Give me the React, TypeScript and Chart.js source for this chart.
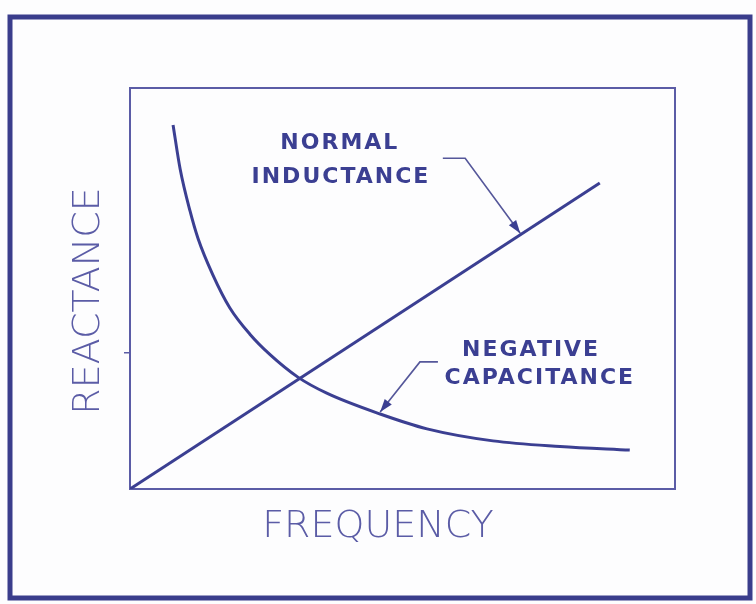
import React, { useEffect, useRef } from "react";
import { Chart, registerables } from "chart.js";

Chart.register(...registerables);

// Normal inductance: straight line through the origin
const inductanceX = [0, 86.2];
const inductanceY = [0, 76.3];

// Negative capacitance: hyperbola-like curve
const capacitanceX = [7.9, 9.2, 11.0, 12.5, 15.2, 18.3, 22.0, 25.7, 30.8, 36.1, 45.9, 54.5, 66.6, 78.9, 91.7];
const capacitanceY = [90.8, 79.8, 69.4, 62.4, 53.4, 45.2, 38.6, 33.5, 27.9, 23.9, 18.7, 15.0, 12.0, 10.6, 9.7];

const yTickValues = [34];

const xTitle = "FREQUENCY";
const yTitle = "REACTANCE";
const inductanceLabel = ["NORMAL", "INDUCTANCE"];
const capacitanceLabel = ["NEGATIVE", "CAPACITANCE"];

const INK = "#3b3f92";
const LIGHT_INK = "#5b5ca6";

const annotationPlugin = {
  id: "sketchAnnotations",
  beforeDraw(chart: any) {
    const ctx = chart.ctx;
    ctx.save();
    ctx.fillStyle = "#fdfdfe";
    ctx.fillRect(0, 0, chart.width, chart.height);
    ctx.restore();
  },
  afterDraw(chart: any) {
    const { ctx, scales } = chart;
    const xs = scales.x;
    const ys = scales.y;
    const px = (v: number) => xs.getPixelForValue(v);
    const py = (v: number) => ys.getPixelForValue(v);
    ctx.save();

    // outer frame
    ctx.strokeStyle = "#3a3d8c";
    ctx.lineWidth = 5;
    ctx.strokeRect(10, 17, 740, 581);

    // leaders with arrow heads
    const leader = (pts: number[][]) => {
      ctx.strokeStyle = "#55579a";
      ctx.lineWidth = 1.6;
      ctx.beginPath();
      pts.forEach((p, i) => {
        const X = px(p[0]);
        const Y = py(p[1]);
        if (i === 0) ctx.moveTo(X, Y);
        else ctx.lineTo(X, Y);
      });
      ctx.stroke();
      const a = pts[pts.length - 2];
      const b = pts[pts.length - 1];
      const ax = px(a[0]), ay = py(a[1]), bx = px(b[0]), by = py(b[1]);
      const ang = Math.atan2(by - ay, bx - ax);
      const L = 13, W = 4.5;
      ctx.fillStyle = INK;
      ctx.beginPath();
      ctx.moveTo(bx, by);
      ctx.lineTo(bx - L * Math.cos(ang) + W * Math.sin(ang), by - L * Math.sin(ang) - W * Math.cos(ang));
      ctx.lineTo(bx - L * Math.cos(ang) - W * Math.sin(ang), by - L * Math.sin(ang) + W * Math.cos(ang));
      ctx.closePath();
      ctx.fill();
    };
    leader([[57.4, 82.5], [61.5, 82.5], [71.6, 63.8]]);
    leader([[56.5, 31.7], [53.2, 31.7], [45.9, 19.2]]);

    // labels
    ctx.fillStyle = INK;
    ctx.font = "bold 22px 'DejaVu Sans'";
    ctx.textAlign = "center";
    ctx.textBaseline = "middle";
    (ctx as any).letterSpacing = "2px";
    ctx.fillText(inductanceLabel[0], px(38.5), py(86.3));
    ctx.fillText(inductanceLabel[1], px(38.7), py(77.8));
    ctx.fillText(capacitanceLabel[0], px(73.6), py(34.7));
    ctx.fillText(capacitanceLabel[1], px(75.2), py(27.7));
    (ctx as any).letterSpacing = "0px";

    // axis titles
    ctx.fillStyle = LIGHT_INK;
    ctx.font = "200 38px 'DejaVu Sans'";
    ctx.fillText(xTitle, 378, 527);
    ctx.translate(89, 301);
    ctx.rotate(-Math.PI / 2);
    ctx.fillText(yTitle, 0, 0);
    ctx.restore();
  },
};

export default function App() {
  const ref = useRef<HTMLCanvasElement>(null);
  useEffect(() => {
    if (!ref.current) return;
    const chart = new Chart(ref.current, {
      type: "scatter",
      data: {
        datasets: [
          {
            label: "Normal inductance",
            data: inductanceX.map((x, i) => ({ x, y: inductanceY[i] })),
            showLine: true,
            borderColor: INK,
            borderWidth: 3,
            pointRadius: 0,
          },
          {
            label: "Negative capacitance",
            data: capacitanceX.map((x, i) => ({ x, y: capacitanceY[i] })),
            showLine: true,
            borderColor: INK,
            borderWidth: 3,
            pointRadius: 0,
            cubicInterpolationMode: "monotone",
          },
        ],
      },
      options: {
        animation: false,
        responsive: false,
        layout: { padding: { top: 88, right: 81, left: 0, bottom: 0 } },
        plugins: { legend: { display: false }, tooltip: { enabled: false } },
        scales: {
          x: {
            type: "linear",
            position: "bottom",
            min: 0,
            max: 100,
            grid: { display: false },
            ticks: { display: false },
            border: { display: true, color: LIGHT_INK, width: 2 },
            afterFit: (s: any) => { s.height = 115; },
          },
          y: {
            type: "linear",
            position: "left",
            min: 0,
            max: 100,
            afterBuildTicks: (s: any) => { s.ticks = yTickValues.map((v) => ({ value: v })); },
            grid: { display: true, drawOnChartArea: false, drawTicks: true, tickLength: 6, color: LIGHT_INK, lineWidth: 1.5 },
            ticks: { display: false },
            border: { display: true, color: LIGHT_INK, width: 2 },
            afterFit: (s: any) => { s.width = 130; },
          },
          x2: {
            type: "linear",
            position: "top",
            min: 0,
            max: 100,
            grid: { display: false },
            ticks: { display: false },
            border: { display: true, color: LIGHT_INK, width: 2 },
            afterFit: (s: any) => { s.height = 0; },
          },
          y2: {
            type: "linear",
            position: "right",
            min: 0,
            max: 100,
            grid: { display: false },
            ticks: { display: false },
            border: { display: true, color: LIGHT_INK, width: 2 },
            afterFit: (s: any) => { s.width = 0; },
          },
        },
      } as any,
      plugins: [annotationPlugin],
    });
    return () => chart.destroy();
  }, []);
  return (
    <div style={{ position: "absolute", left: 0, top: 0, width: 756, height: 604 }}>
      <canvas ref={ref} width={756} height={604} style={{ width: 756, height: 604 }} />
    </div>
  );
}
